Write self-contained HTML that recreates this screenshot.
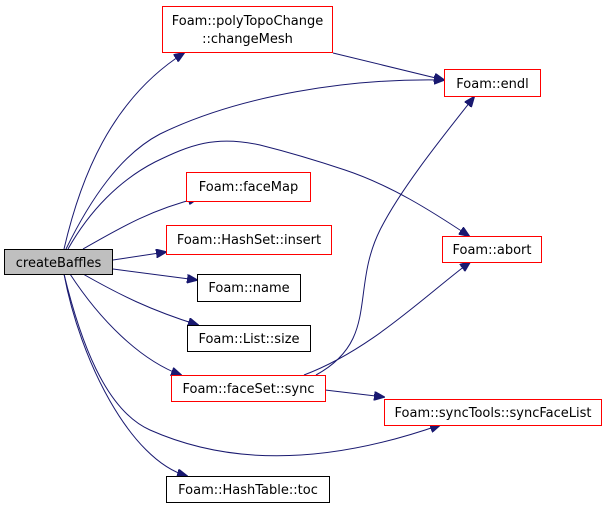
<!DOCTYPE html>
<html><head><meta charset="utf-8"><style>
html,body{margin:0;padding:0;background:#fff;width:607px;height:509px;overflow:hidden}
text{font-family:"DejaVu Sans","Liberation Sans",sans-serif;font-size:13px;fill:#000}
</style></head><body>
<svg width="607" height="509" viewBox="0 0 607 509" xmlns="http://www.w3.org/2000/svg">
<defs><marker id="a" markerWidth="11" markerHeight="9" refX="10" refY="4.5" orient="auto" markerUnits="userSpaceOnUse"><path d="M0,0 L11,4.5 L0,9 z" fill="#191970" stroke="#191970"/></marker></defs>
<g fill="none" stroke="#191970" stroke-width="1" marker-end="url(#a)">
<path d="M64,249 C80,180 110,100 184,53"/>
<path d="M66,249 C90,200 120,155 160,134 C240,95 350,78 444,80"/>
<path d="M68,249 C90,210 120,180 155,162 C190,145 215,135 260,145 C300,155 330,165 345,170 C390,185 430,210 469,236"/>
<path d="M83,249 C120,228 150,210 198,198"/>
<path d="M113,260 L166,252"/>
<path d="M113,269 L197,280"/>
<path d="M83,274 C120,295 150,310 198,325"/>
<path d="M70,274 C100,320 140,360 181,375"/>
<path d="M64,274 C80,340 105,410 150,430 C240,470 340,460 440,425"/>
<path d="M64,274 C80,360 130,460 187,476"/>
<path d="M333,53 L444,80"/>
<path d="M304,375 C370,350 420,300 470,262"/>
<path d="M316,375 C380,340 350,290 380,230 C400,190 440,140 474,97"/>
<path d="M325,390 L384,397"/>
</g>
<g stroke-width="1">
<rect x="4.5" y="249.5" width="108" height="25" fill="#bfbfbf" stroke="#000"/>
<rect x="162.5" y="6.5" width="170" height="46" fill="#fff" stroke="#f00"/>
<rect x="444.5" y="69.5" width="96" height="27" fill="#fff" stroke="#f00"/>
<rect x="186.5" y="172.5" width="124" height="29" fill="#fff" stroke="#f00"/>
<rect x="166.5" y="225.5" width="165" height="29" fill="#fff" stroke="#f00"/>
<rect x="197.5" y="274.5" width="103" height="27" fill="#fff" stroke="#000"/>
<rect x="442.5" y="236.5" width="99" height="26" fill="#fff" stroke="#f00"/>
<rect x="187.5" y="325.5" width="123" height="26" fill="#fff" stroke="#000"/>
<rect x="171.5" y="375.5" width="154" height="26" fill="#fff" stroke="#f00"/>
<rect x="384.5" y="399.5" width="217" height="26" fill="#fff" stroke="#f00"/>
<rect x="166.5" y="476.5" width="163" height="26" fill="#fff" stroke="#000"/>
</g>
<g text-anchor="middle">
<text x="58.5" y="267">createBaffles</text>
<text x="247.5" y="25">Foam::polyTopoChange</text>
<text x="247.5" y="43">::changeMesh</text>
<text x="492.5" y="88">Foam::endl</text>
<text x="248.5" y="191">Foam::faceMap</text>
<text x="249" y="244">Foam::HashSet::insert</text>
<text x="249" y="292">Foam::name</text>
<text x="492" y="254">Foam::abort</text>
<text x="249" y="343">Foam::List::size</text>
<text x="248.5" y="393">Foam::faceSet::sync</text>
<text x="493" y="417">Foam::syncTools::syncFaceList</text>
<text x="248" y="494">Foam::HashTable::toc</text>
</g>
</svg>
</body></html>
